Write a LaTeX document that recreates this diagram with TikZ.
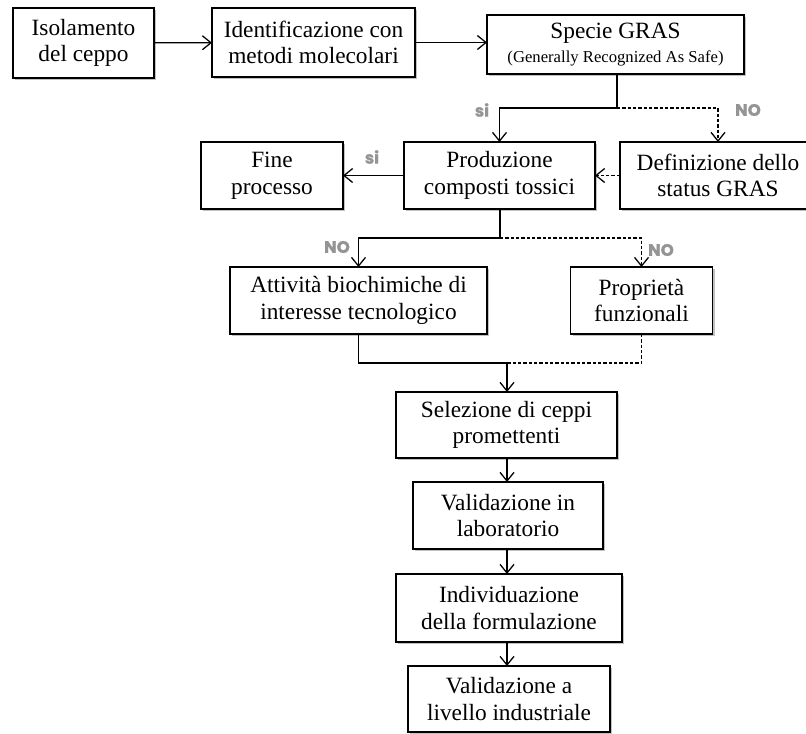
\documentclass[tikz,border=0pt]{standalone}
\usepackage{fontspec}
\setmainfont{Liberation Serif}
\newfontfamily\labfont{Poppins}[FakeBold=1.2]
\usetikzlibrary{arrows.meta,shadows}
\tikzset{
  box/.style n args={2}{draw=black, line width=1.05pt, fill=white, inner sep=0pt, outer sep=0pt,
    minimum width=#1*0.75pt, minimum height=#2*0.75pt, align=center,
    font=\fontsize{17.5}{20}\selectfont,
    drop shadow={shadow xshift=1.6pt, shadow yshift=-1.6pt, opacity=0.35, fill=black!70}},
  conn/.style={line width=0.95pt, -{Straight Barb[length=6.5pt,width=10.5pt,line width=0.95pt]}},
  plain/.style={line width=0.95pt},
  dconn/.style={conn, dashed, dash pattern=on 2.5pt off 1.5pt},
  dplain/.style={plain, dashed, dash pattern=on 2.5pt off 1.5pt},
  lab/.style={text=black!42, font=\labfont\bfseries\fontsize{12.5}{14}\selectfont, inner sep=0pt}
}
\begin{document}
\begin{tikzpicture}[x=0.75pt, y=-0.75pt]
\useasboundingbox (0,0) rectangle (806,733);
\clip (0,0) rectangle (806,733);
\node[box={141}{70}] (iso) at (83.5,43) {Isolamento\\del ceppo};
\node[box={203}{69}] (ide) at (313.5,42.5) {Identificazione con\\metodi molecolari};
\node[box={257}{59}] (gras) at (615.5,44.5) {Specie GRAS\\[-2pt]{\fontsize{12.5}{14}\selectfont (Generally Recognized As Safe)}};
\node[box={191}{67}] (prod) at (499.5,175.5) {Produzione\\composti tossici};
\node[box={196}{67}] (def) at (718,175.5) {Definizione dello\\status GRAS};
\node[box={142}{67}] (fine) at (272,175.5) {Fine\\processo};
\node[box={257}{67}] (att) at (358.5,300.5) {Attività biochimiche di\\interesse tecnologico};
\node[box={142}{67}] (prop) at (641.5,300.5) {Proprietà\\funzionali};
\node[box={221}{66}] (sel) at (506.5,425) {Selezione di ceppi\\promettenti};
\node[box={190}{67}] (val) at (508,515.5) {Validazione in\\laboratorio};
\node[box={226}{68}] (ind) at (509,608) {Individuazione\\della formulazione};
\node[box={202}{66}] (vind) at (509,699) {Validazione a\\livello industriale};

\coordinate (j1) at (617,108);
\coordinate (j2) at (500,238);
\coordinate (j3) at (507,363);

\draw[conn] (iso) -- (ide);
\draw[conn] (ide.east) -- (ide.east -| gras.west);
\draw[plain] (gras.south -| j1) -- (j1);
\draw[conn] (j1) -| (prod.north);
\draw[dconn] (j1) -| (def.north);
\draw[dconn] (def.west) -- (prod.east);
\draw[conn] (prod.west) -- (fine.east);
\draw[plain] (prod.south -| j2) -- (j2);
\draw[conn] (j2) -| (att.north);
\draw[dconn] (j2) -| (prop.north);
\draw[plain] (att.south) |- (j3);
\draw[dplain] (prop.south) |- (j3);
\draw[conn] (j3) -- (j3 |- sel.north);
\draw[conn] (sel.south -| j3) -- (j3 |- val.north);
\draw[conn] (val.south -| j3) -- (j3 |- ind.north);
\draw[conn] (ind.south -| j3) -- (j3 |- vind.north);

\node[lab] (l1) at (482,110) {si};
\node[lab] (l2) at (748,110) {NO};
\node[lab] (l3) at (372,157) {si};
\node[lab] (l4) at (337,247) {NO};
\node[lab] (l5) at (661,250) {NO};
\end{tikzpicture}
\end{document}
